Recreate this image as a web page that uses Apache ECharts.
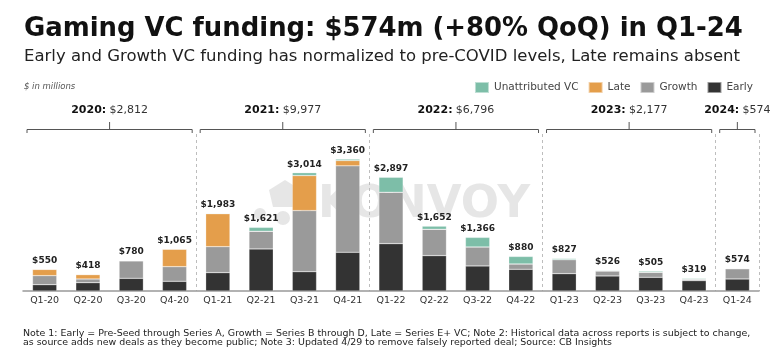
<!DOCTYPE html>
<html><head><meta charset="utf-8">
<script src="https://cdn.jsdelivr.net/npm/echarts@6/dist/echarts.min.js"></script>
<style>html,body{margin:0;padding:0;background:#fff}#c{width:780px;height:349px}</style>
</head><body><div id="c"></div>
<script>
const categories = ['Q1-20','Q2-20','Q3-20','Q4-20','Q1-21','Q2-21','Q3-21','Q4-21','Q1-22','Q2-22','Q3-22','Q4-22','Q1-23','Q2-23','Q3-23','Q4-23','Q1-24'];
const early        = [161, 212, 323, 247, 468, 1071, 493, 986, 1207, 901, 638, 553, 442, 383, 349, 264, 306];
const growth       = [230,  94, 445, 373, 662,  451, 1556, 2202, 1309, 672, 484, 136, 357, 127, 127, 34, 262];
const late         = [159, 112,   0, 445, 838,    0, 892, 136,    0,   0,   0,   0,   0,   0,   0,  0,   0];
const unattributed = [  0,   0,  12,   0,  15,   99,  73,  36,  381,  79, 244, 191,  28,  16,  29, 21,   6];
const totals       = [550, 418, 780, 1065, 1983, 1621, 3014, 3360, 2897, 1652, 1366, 880, 827, 526, 505, 319, 574];
const yearNames  = ['2020','2021','2022','2023','2024'];
const yearTotals = ['$2,812','$9,977','$6,796','$2,177','$574'];
const yearFirst  = [0, 4, 8, 12, 16];
const yearLast   = [3, 7, 11, 15, 16];

const FONT = 'DejaVu Sans';
const chart = echarts.init(document.getElementById('c'), null, {renderer:'canvas'});

function barSeries(name, data, color){
  return {name, type:'bar', stack:'total', data, barWidth:'56%', barGap:'-100%', silent:true,
    itemStyle:{color, borderColor:'rgba(255,255,255,0.5)', borderWidth:0.5}, z:10};
}

chart.setOption({
  animation:false,
  backgroundColor:'#fff',
  grid:{left:23, right:21, top:134, bottom:58},
  legend:{
    data:['Unattributed VC','Late','Growth','Early'],
    right:22, top:76, icon:'rect', itemWidth:14, itemHeight:11, itemGap:9,
    textStyle:{fontSize:10.5, color:'#444', fontFamily:FONT}, selectedMode:false
  },
  xAxis:{
    type:'category', data:categories,
    axisLine:{lineStyle:{color:'#999', width:1.5}},
    axisTick:{show:false},
    axisLabel:{color:'#333', fontSize:9.5, fontFamily:FONT, margin:5},
    splitLine:{show:true, interval:function(i){ return yearFirst.indexOf(i) > 0; },
      lineStyle:{color:'#bdbdbd', type:[3,3], width:1}}
  },
  yAxis:{type:'value', min:0, max:4000, show:false},
  series:[
    barSeries('Early', early, '#333333'),
    barSeries('Growth', growth, '#9a9a9a'),
    barSeries('Late', late, '#e49e4b'),
    barSeries('Unattributed VC', unattributed, '#7dbea8'),
    {name:'Total', type:'bar', data:totals, barWidth:'56%', barGap:'-100%', silent:true, z:9,
      itemStyle:{color:'rgba(0,0,0,0)'},
      label:{show:true, position:'top', distance:4, fontFamily:FONT, fontWeight:'bold', fontSize:9, color:'#222',
        formatter:p=>'$'+p.value.toLocaleString('en-US')}}
  ]
});

const px = i => chart.convertToPixel({xAxisIndex:0}, i);
const band = px(1) - px(0);
const g = [];
// watermark (behind bars)
const wm = '#e6e6e6';
g.push({type:'polygon', z:-10, shape:{points:[[285,180],[301,190],[297,207],[273,207],[269,190]]}, style:{fill:wm}});
g.push({type:'circle', z:-10, shape:{cx:260, cy:214, r:6}, style:{fill:wm}});
g.push({type:'circle', z:-10, shape:{cx:283, cy:218, r:7}, style:{fill:wm}});
g.push({type:'circle', z:-10, shape:{cx:306, cy:214, r:6}, style:{fill:wm}});
g.push({type:'text', z:-10, x:318, y:205, style:{text:'KONVOY', font:'bold 45px "DejaVu Sans"', fill:wm, verticalAlign:'middle'}});
// titles
g.push({type:'text', x:24, y:29, style:{text:'Gaming VC funding: $574m (+80% QoQ) in Q1-24', font:'bold 25.9px "DejaVu Sans"', fill:'#111', verticalAlign:'middle'}});
g.push({type:'text', x:24, y:57, style:{text:'Early and Growth VC funding has normalized to pre-COVID levels, Late remains absent', font:'16.5px "DejaVu Sans"', fill:'#222', verticalAlign:'middle'}});
g.push({type:'text', x:24, y:87, style:{text:'$ in millions', font:'italic 8.5px "DejaVu Sans"', fill:'#555', verticalAlign:'middle'}});
// notes
g.push({type:'text', x:23, y:334, style:{text:'Note 1: Early = Pre-Seed through Series A, Growth = Series B through D, Late = Series E+ VC; Note 2: Historical data across reports is subject to change,', font:'9.45px "DejaVu Sans"', fill:'#222', verticalAlign:'middle'}});
g.push({type:'text', x:23, y:343, style:{text:'as source adds new deals as they become public; Note 3: Updated 4/29 to remove falsely reported deal; Source: CB Insights', font:'9.45px "DejaVu Sans"', fill:'#222', verticalAlign:'middle'}});
// year brackets
yearNames.forEach((name,k)=>{
  const x0 = px(yearFirst[k]) - band/2 + 4;
  const x1 = px(yearLast[k]) + band/2 - 4;
  const xm = (x0 + x1) / 2;
  g.push({type:'polyline', shape:{points:[[x0,133],[x0,129.5],[x1,129.5],[x1,133]]}, style:{stroke:'#555', lineWidth:1, fill:null}});
  g.push({type:'line', shape:{x1:xm, y1:129.5, x2:xm, y2:122}, style:{stroke:'#555', lineWidth:1}});
  g.push({type:'text', x:xm, y:110, style:{text:'{b|'+name+':} {r|'+yearTotals[k]+'}', align:'center', verticalAlign:'middle',
    rich:{b:{font:'bold 11px "DejaVu Sans"', fill:'#111'}, r:{font:'11px "DejaVu Sans"', fill:'#333'}}}});
});
chart.setOption({graphic:g});
</script>
</body></html>
